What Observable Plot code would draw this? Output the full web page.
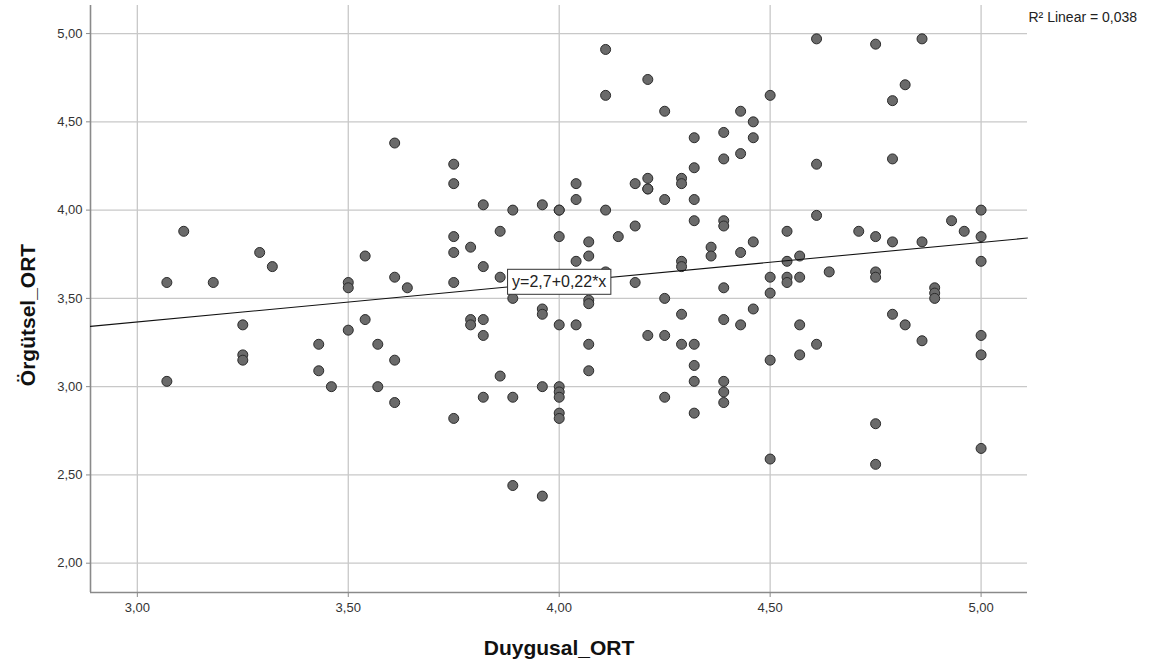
<!DOCTYPE html>
<html><head><meta charset="utf-8">
<script src="https://cdn.jsdelivr.net/npm/d3@7"></script>
<script src="https://cdn.jsdelivr.net/npm/@observablehq/plot@0.6"></script>
<style>
body{margin:0;background:#fff;}
svg{font-family:"Liberation Sans",Arial,sans-serif;}
g[aria-label="y-axis tick"], g[aria-label="x-axis tick"]{stroke:#8a8a8a;}
g[aria-label="y-axis"] .tick line, g[aria-label="x-axis"] .tick line{stroke:#8a8a8a;}
</style>
</head><body><div id="chart"></div>
<script>
// Duygusal_ORT (x) values
const duygusal = [
 3.07,3.11,3.18,3.29,3.32,3.50,3.50,3.54,3.25,3.25,3.25,3.07,3.43,3.43,3.46,3.50,3.54,3.57,3.57,
 4.11,4.11,3.61,3.75,3.75,3.82,3.89,3.96,4.00,4.00,4.04,4.04,4.11,3.61,3.64,3.75,3.75,3.75,3.79,
 3.82,3.86,3.86,4.00,4.04,4.07,4.07,4.11,4.14,3.89,3.96,3.96,4.07,4.07,3.79,3.79,3.82,3.82,4.00,
 4.04,3.61,3.61,3.75,3.82,3.86,3.89,3.96,4.00,4.00,4.00,4.00,4.00,4.07,4.07,3.89,3.96,
 4.61,4.21,4.25,4.43,4.46,4.50,4.32,4.39,4.46,4.39,4.43,4.61,4.32,4.18,4.21,4.21,4.21,4.29,4.29,
 4.25,4.32,4.61,4.18,4.32,4.39,4.39,4.54,4.36,4.36,4.43,4.46,4.29,4.29,4.57,4.54,4.18,4.39,4.50,
 4.54,4.54,4.57,4.64,4.25,4.50,4.29,4.39,4.43,4.46,4.21,4.25,4.29,4.32,4.32,4.32,4.39,4.39,4.39,
 4.25,4.32,4.50,4.57,4.57,4.61,4.50,
 4.75,4.86,4.82,4.79,4.79,5.00,4.93,4.71,4.75,4.79,4.86,4.96,5.00,5.00,4.75,4.75,4.89,4.89,4.89,
 4.79,4.82,4.86,5.00,5.00,4.75,4.75,5.00
];
// Örgütsel_ORT (y) values
const orgutsel = [
 3.59,3.88,3.59,3.76,3.68,3.59,3.56,3.74,3.35,3.18,3.15,3.03,3.24,3.09,3.00,3.32,3.38,3.24,3.00,
 4.91,4.65,4.38,4.26,4.15,4.03,4.00,4.03,4.00,4.00,4.15,4.06,4.00,3.62,3.56,3.85,3.76,3.59,3.79,
 3.68,3.88,3.62,3.85,3.71,3.82,3.74,3.65,3.85,3.50,3.44,3.41,3.49,3.47,3.38,3.35,3.38,3.29,3.35,
 3.35,3.15,2.91,2.82,2.94,3.06,2.94,3.00,3.00,2.97,2.94,2.85,2.82,3.24,3.09,2.44,2.38,
 4.97,4.74,4.56,4.56,4.50,4.65,4.41,4.44,4.41,4.29,4.32,4.26,4.24,4.15,4.18,4.12,4.12,4.18,4.15,
 4.06,4.06,3.97,3.91,3.94,3.94,3.91,3.88,3.79,3.74,3.76,3.82,3.71,3.68,3.74,3.71,3.59,3.56,3.62,
 3.62,3.59,3.62,3.65,3.50,3.53,3.41,3.38,3.35,3.44,3.29,3.29,3.24,3.24,3.12,3.03,3.03,2.97,2.91,
 2.94,2.85,3.15,3.35,3.18,3.24,2.59,
 4.94,4.97,4.71,4.62,4.29,4.00,3.94,3.88,3.85,3.82,3.82,3.88,3.85,3.71,3.65,3.62,3.56,3.53,3.50,
 3.41,3.35,3.26,3.29,3.18,2.79,2.56,2.65
];
const xTicks = [3.0, 3.5, 4.0, 4.5, 5.0];
const yTicks = [2.0, 2.5, 3.0, 3.5, 4.0, 4.5, 5.0];
const xDomain = [2.889, 5.110];
const yDomain = [1.834, 5.159];
const fitIntercept = 2.691, fitSlope = 0.2252;   // from the chart's fit line
const fitLabelX = 4.0;
const fitLabel = "y=2,7+0,22*x";
const r2Label = "R² Linear = 0,038";
const xTitle = "Duygusal_ORT";
const yTitle = "Örgütsel_ORT";

const fmt = d => d.toFixed(2).replace(".", ",");
const points = duygusal.map((x, i) => ({x, y: orgutsel[i]}));
const fitLine = xDomain.map(x => ({x, y: fitIntercept + fitSlope * x}));
const fitLabelData = [{x: fitLabelX, y: fitIntercept + fitSlope * fitLabelX, t: fitLabel}];

const chart = Plot.plot({
  width: 1153, height: 665,
  marginLeft: 90, marginRight: 126, marginTop: 5, marginBottom: 73,
  style: {fontFamily: "Liberation Sans, Arial, sans-serif", fontSize: "13px", color: "#333", background: "#fff", overflow: "visible"},
  x: {domain: xDomain, ticks: xTicks, tickFormat: fmt, tickSize: 5, tickPadding: 5, label: null},
  y: {domain: yDomain, ticks: yTicks, tickFormat: fmt, tickSize: 4, tickPadding: 4, label: null},
  marks: [
    Plot.ruleX(xTicks, {stroke: "#c8c8c8", strokeWidth: 1.3}),
    Plot.ruleY(yTicks, {stroke: "#c8c8c8", strokeWidth: 1.3}),
    Plot.ruleX([xDomain[0]], {stroke: "#8a8a8a", strokeWidth: 1.6}),
    Plot.ruleY([yDomain[0]], {stroke: "#8a8a8a", strokeWidth: 1.6}),
    Plot.dot(points, {x: "x", y: "y", r: 5, fill: "#6a6a6a", fillOpacity: 1, stroke: "#2b2b2b", strokeWidth: 1}),
    Plot.line(fitLine, {x: "x", y: "y", stroke: "#111", strokeWidth: 1.1}),
    Plot.text(fitLabelData, {x: "x", y: "y", text: "t", fontSize: 16, fill: "#222", textAnchor: "middle", lineAnchor: "middle"}),
    Plot.text([r2Label], {text: d => d, frameAnchor: "top-right", textAnchor: "start", lineAnchor: "top", dx: 1, dy: 7, fontSize: 14, fill: "#222"}),
    Plot.text([xTitle], {text: d => d, frameAnchor: "bottom", lineAnchor: "middle", dy: 56, fontSize: 21, fontWeight: "bold", fill: "#111"}),
    Plot.text([yTitle], {text: d => d, frameAnchor: "left", rotate: -90, textAnchor: "middle", lineAnchor: "middle", dx: -62, dy: 16, fontSize: 21, fontWeight: "bold", fill: "#111"})
  ]
});
document.getElementById("chart").appendChild(chart);

// white box with border behind the fit-line label
const lab = Array.from(chart.querySelectorAll("text")).find(t => t.textContent === fitLabel);
if (lab) {
  const b = lab.getBBox();
  const rect = document.createElementNS("http://www.w3.org/2000/svg", "rect");
  rect.setAttribute("x", b.x - 4.5);
  rect.setAttribute("y", b.y - 4);
  rect.setAttribute("width", b.width + 9);
  rect.setAttribute("height", b.height + 8);
  rect.setAttribute("fill", "#fff");
  rect.setAttribute("stroke", "#333");
  rect.setAttribute("stroke-width", "1");
  const tr = lab.getAttribute("transform");
  if (tr) rect.setAttribute("transform", tr);
  lab.parentNode.insertBefore(rect, lab);
}
</script>
</body></html>
